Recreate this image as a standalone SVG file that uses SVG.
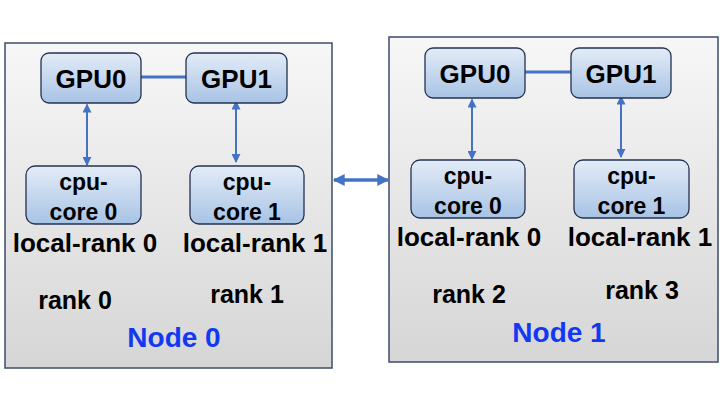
<svg xmlns="http://www.w3.org/2000/svg" width="720" height="405" viewBox="0 0 720 405">
<defs>
<linearGradient id="gOuter" x1="0" y1="0" x2="0" y2="1">
<stop offset="0" stop-color="#f7f7f7"/><stop offset="1" stop-color="#d6d6d6"/>
</linearGradient>
<linearGradient id="gInner" x1="0" y1="0" x2="0" y2="1">
<stop offset="0" stop-color="#e3ecf7"/><stop offset="1" stop-color="#a8c3e5"/>
</linearGradient>
<marker id="ah" viewBox="0 0 10 10" refX="9" refY="5" markerWidth="4.5" markerHeight="4.5" orient="auto-start-reverse" markerUnits="strokeWidth">
<path d="M0,0 L10,5 L0,10 z" fill="#4472c4"/>
</marker>
<marker id="ahBig" viewBox="0 0 10 10" refX="9" refY="5" markerWidth="4" markerHeight="3.4" orient="auto-start-reverse" markerUnits="strokeWidth">
<path d="M0,0 L10,5 L0,10 z" fill="#4472c4"/>
</marker>
<style>
.outer{fill:url(#gOuter);stroke:#3d4c68;stroke-width:1.5}
.inner{fill:url(#gInner);stroke:#24324f;stroke-width:1.3}
.t{font-family:"Liberation Sans",Arial,sans-serif;font-weight:bold;fill:#000;text-anchor:middle}
.gpu{font-size:26px}
.cpu{font-size:23px}
.lr{font-size:26px}
.rk{font-size:25px}
.nl{font-size:28px;fill:#1238f2}
.link{stroke:#4472c4;stroke-width:3;fill:none}
.arr{stroke:#4472c4;stroke-width:2;fill:none;marker-start:url(#ah);marker-end:url(#ah)}
</style>
</defs>

<g id="node0">
<rect class="outer" x="5" y="43" width="327" height="325"/>
<text class="t lr" x="85" y="252">local-rank 0</text>
<text class="t lr" x="255" y="252">local-rank 1</text>
<text class="t rk" x="75" y="309">rank 0</text>
<text class="t rk" x="247" y="303">rank 1</text>
<text class="t nl" x="174" y="347">Node 0</text>
</g>
<g id="node1">
<rect class="outer" x="389" y="37" width="329" height="325"/>
<text class="t lr" x="469" y="246">local-rank 0</text>
<text class="t lr" x="640" y="246">local-rank 1</text>
<text class="t rk" x="469" y="303">rank 2</text>
<text class="t rk" x="642" y="299">rank 3</text>
<text class="t nl" x="559" y="342">Node 1</text>
</g>

<g id="connectors">
<line class="link" x1="141" y1="77" x2="186" y2="77"/>
<line class="link" x1="525" y1="72" x2="571" y2="72"/>
<line class="arr" x1="87" y1="104.5" x2="87" y2="165"/>
<line class="arr" x1="236" y1="101.5" x2="236" y2="162"/>
<line class="arr" x1="472" y1="99.5" x2="472" y2="159"/>
<line class="arr" x1="621" y1="96.5" x2="621" y2="157"/>
<line x1="334" y1="180" x2="388" y2="180" stroke="#4472c4" stroke-width="3.5" marker-start="url(#ahBig)" marker-end="url(#ahBig)"/>
</g>

<g id="n0gpu0"><rect class="inner" x="41" y="53" width="100" height="50" rx="8"/><text class="t gpu" x="91" y="88">GPU0</text></g>
<g id="n0gpu1"><rect class="inner" x="186" y="53" width="101" height="50" rx="8"/><text class="t gpu" x="236.5" y="88">GPU1</text></g>
<g id="n0cpu0"><rect class="inner" x="26" y="166" width="115" height="58" rx="9"/><text class="t cpu" x="83.5" y="190">cpu-</text><text class="t cpu" x="83.5" y="220">core 0</text></g>
<g id="n0cpu1"><rect class="inner" x="190" y="166" width="114" height="58" rx="9"/><text class="t cpu" x="247" y="190">cpu-</text><text class="t cpu" x="247" y="220">core 1</text></g>

<g id="n1gpu0"><rect class="inner" x="425" y="48" width="100" height="50" rx="8"/><text class="t gpu" x="475" y="83">GPU0</text></g>
<g id="n1gpu1"><rect class="inner" x="571" y="48" width="100" height="50" rx="8"/><text class="t gpu" x="621" y="83">GPU1</text></g>
<g id="n1cpu0"><rect class="inner" x="411" y="160" width="114" height="58" rx="9"/><text class="t cpu" x="468" y="184">cpu-</text><text class="t cpu" x="468" y="214">core 0</text></g>
<g id="n1cpu1"><rect class="inner" x="574" y="160" width="115" height="58" rx="9"/><text class="t cpu" x="631.5" y="184">cpu-</text><text class="t cpu" x="631.5" y="214">core 1</text></g>
</svg>
